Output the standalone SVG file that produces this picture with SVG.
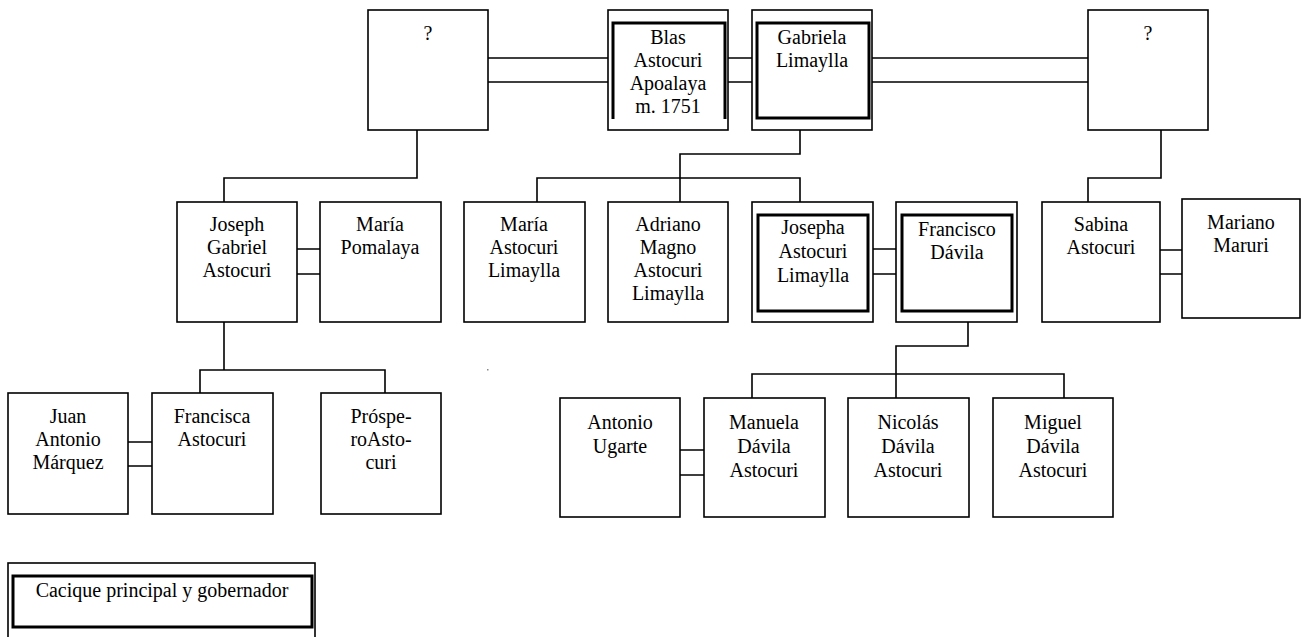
<svg xmlns="http://www.w3.org/2000/svg" width="1302" height="637" viewBox="0 0 1302 637">
<style>
.b{fill:#fff;stroke:#000;stroke-width:1.6}
.t{fill:none;stroke:#000;stroke-width:3}
.c{fill:none;stroke:#000;stroke-width:1.6}
text{font-family:"Liberation Serif","Times New Roman",serif;font-size:20px;fill:#000;text-anchor:middle}
</style>
<rect width="1302" height="637" fill="#fff"/>
<g id="connectors">
<path class="c" d="M488,58H608M488,82H608"/>
<path class="c" d="M728,58H752M728,82H752"/>
<path class="c" d="M872,58H1088M872,82H1088"/>
<path class="c" d="M417,130V178H224V202"/>
<path class="c" d="M800,130V154H680V202"/>
<path class="c" d="M537,202V178H800V202"/>
<path class="c" d="M1161,130V178H1088V202"/>
<path class="c" d="M297,249H320M297,274H320"/>
<path class="c" d="M873,249H896M873,274H896"/>
<path class="c" d="M1160,250H1182M1160,274H1182"/>
<path class="c" d="M224,322V370M200,393V370H385V393"/>
<path class="c" d="M128,442H152M128,466H152"/>
<path class="c" d="M968,322V346H896V398M752,398V374H1064V398"/>
<path class="c" d="M680,450H704M680,475H704"/>
</g>
<g id="n-unknown-left">
<rect class="b" x="368" y="10" width="120" height="120"/>
<text x="428" y="40">?</text>
</g>
<g id="n-blas">
<rect class="b" x="608" y="10" width="120" height="120"/>
<path class="t" d="M613,119V23H725V119"/>
<text x="668" y="44">Blas</text>
<text x="668" y="67">Astocuri</text>
<text x="668" y="90">Apoalaya</text>
<text x="668" y="113">m. 1751</text>
</g>
<g id="n-gabriela">
<rect class="b" x="752" y="10" width="120" height="120"/>
<rect class="t" x="757" y="23" width="112" height="95"/>
<text x="812" y="44">Gabriela</text>
<text x="812" y="67">Limaylla</text>
</g>
<g id="n-unknown-right">
<rect class="b" x="1088" y="10" width="120" height="120"/>
<text x="1148" y="40">?</text>
</g>
<g id="n-joseph">
<rect class="b" x="177" y="202" width="120" height="120"/>
<text x="237" y="231">Joseph</text>
<text x="237" y="254">Gabriel</text>
<text x="237" y="277">Astocuri</text>
</g>
<g id="n-maria-pomalaya">
<rect class="b" x="320" y="202" width="121" height="120"/>
<text x="380" y="231">María</text>
<text x="380" y="254">Pomalaya</text>
</g>
<g id="n-maria-astocuri">
<rect class="b" x="464" y="202" width="121" height="120"/>
<text x="524" y="231">María</text>
<text x="524" y="254">Astocuri</text>
<text x="524" y="277">Limaylla</text>
</g>
<g id="n-adriano">
<rect class="b" x="608" y="202" width="120" height="120"/>
<text x="668" y="231">Adriano</text>
<text x="668" y="254">Magno</text>
<text x="668" y="277">Astocuri</text>
<text x="668" y="300">Limaylla</text>
</g>
<g id="n-josepha">
<rect class="b" x="752" y="202" width="121" height="120"/>
<rect class="t" x="758" y="215" width="110" height="96"/>
<text x="813" y="234">Josepha</text>
<text x="813" y="258">Astocuri</text>
<text x="813" y="282">Limaylla</text>
</g>
<g id="n-francisco">
<rect class="b" x="896" y="202" width="121" height="120"/>
<rect class="t" x="902" y="215" width="110" height="96"/>
<text x="957" y="236">Francisco</text>
<text x="957" y="259">Dávila</text>
</g>
<g id="n-sabina">
<rect class="b" x="1042" y="202" width="118" height="120"/>
<text x="1101" y="231">Sabina</text>
<text x="1101" y="254">Astocuri</text>
</g>
<g id="n-mariano">
<rect class="b" x="1182" y="199" width="118" height="119"/>
<text x="1241" y="229">Mariano</text>
<text x="1241" y="252">Maruri</text>
</g>
<g id="n-juan">
<rect class="b" x="8" y="393" width="120" height="121"/>
<text x="68" y="423">Juan</text>
<text x="68" y="446">Antonio</text>
<text x="68" y="469">Márquez</text>
</g>
<g id="n-francisca">
<rect class="b" x="152" y="393" width="121" height="121"/>
<text x="212" y="423">Francisca</text>
<text x="212" y="446">Astocuri</text>
</g>
<g id="n-prospero">
<rect class="b" x="321" y="393" width="120" height="121"/>
<text x="381" y="423">Próspe-</text>
<text x="381" y="446">roAsto-</text>
<text x="381" y="469">curi</text>
</g>
<g id="n-antonio">
<rect class="b" x="560" y="398" width="120" height="119"/>
<text x="620" y="429">Antonio</text>
<text x="620" y="453">Ugarte</text>
</g>
<g id="n-manuela">
<rect class="b" x="704" y="398" width="121" height="119"/>
<text x="764" y="429">Manuela</text>
<text x="764" y="453">Dávila</text>
<text x="764" y="477">Astocuri</text>
</g>
<g id="n-nicolas">
<rect class="b" x="848" y="398" width="121" height="119"/>
<text x="908" y="429">Nicolás</text>
<text x="908" y="453">Dávila</text>
<text x="908" y="477">Astocuri</text>
</g>
<g id="n-miguel">
<rect class="b" x="993" y="398" width="120" height="119"/>
<text x="1053" y="429">Miguel</text>
<text x="1053" y="453">Dávila</text>
<text x="1053" y="477">Astocuri</text>
</g>
<rect x="487" y="369" width="1.5" height="1.5" fill="#888"/>
<g id="legend">
<rect class="b" x="8" y="563" width="307" height="80"/>
<rect class="t" x="13" y="576" width="299" height="51"/>
<text x="162" y="597">Cacique principal y gobernador</text>
</g>
</svg>
